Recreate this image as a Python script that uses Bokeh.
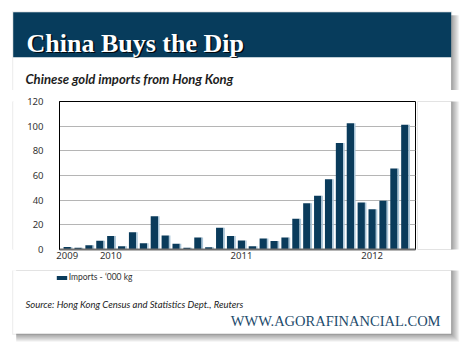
from bokeh.plotting import figure
from bokeh.layouts import column, row
from bokeh.models import (ColumnDataSource, Range1d, FixedTicker, BoxAnnotation,
                          Label, Legend, LegendItem)
from bokeh.transform import dodge
from bokeh.embed import file_html
from bokeh.resources import INLINE

# ---------------- data ----------------
months = ["2009-09", "2009-10", "2009-11", "2009-12",
          "2010-01", "2010-02", "2010-03", "2010-04", "2010-05", "2010-06",
          "2010-07", "2010-08", "2010-09", "2010-10", "2010-11", "2010-12",
          "2011-01", "2011-02", "2011-03", "2011-04", "2011-05", "2011-06",
          "2011-07", "2011-08", "2011-09", "2011-10", "2011-11", "2011-12",
          "2012-01", "2012-02", "2012-03", "2012-04"]
imports = [2.0, 1.5, 3.5, 7.0, 11.0, 2.7, 14.0, 5.0, 27.0, 11.4, 4.6, 1.4,
           9.8, 1.9, 17.7, 10.9, 7.3, 2.7, 9.0, 6.8, 9.8, 25.0, 37.5, 43.5,
           56.9, 86.3, 102.3, 38.1, 32.7, 39.5, 65.6, 101.2]
year_labels = ["2009", "2010", "2011", "2012"]
year_label_months = ["2009-09", "2010-01", "2011-01", "2012-01"]
y_ticks = [0, 20, 40, 60, 80, 100, 120]

title_text = "China Buys the Dip"
subtitle_text = "Chinese gold imports from Hong Kong"
legend_text = "Imports - \u2018000 kg"
source_text = "Source: Hong Kong Census and Statistics Dept., Reuters"
footer_text = "WWW.AGORAFINANCIAL.COM"

NAVY = "#073c5c"
BAR = "#0a3b5b"
TOTAL_W, TOTAL_H = 468, 353
TOP_H = 90          # height of the header strip
MID_H = 180         # height of the chart strip
LEFT_W = 14
CHART_W = 403
RIGHT_W = TOTAL_W - LEFT_W - CHART_W

# card geometry in page pixels
CL, CR, CT, CB = 12.7, 450.7, 11.7, 333.3
HEADER_B = 56.7


def deco_figure(x0, y0, w, h):
    f = figure(width=w, height=h, output_backend="svg", toolbar_location=None,
               x_range=Range1d(x0, x0 + w), y_range=Range1d(y0 + h, y0),
               min_border=0, x_axis_location=None, y_axis_location=None,
               outline_line_color=None, border_fill_color="white",
               background_fill_color="white")
    f.grid.visible = False
    # drop shadow
    f.add_layout(BoxAnnotation(left=CL - 1, right=CR + 1, top=CT - 1, bottom=CB + 1,
                               fill_color="black", fill_alpha=0.08, line_color=None,
                               level="underlay"))
    for d in range(1, 9):
        f.add_layout(BoxAnnotation(left=CL + 3, right=CR + d, top=CT + 3, bottom=CB + d,
                                   fill_color="black", fill_alpha=0.05,
                                   line_color=None, level="underlay"))
    # card
    f.add_layout(BoxAnnotation(left=CL, right=CR, top=CT, bottom=CB,
                               fill_color="white", fill_alpha=1, line_color=None,
                               level="underlay"))
    f.add_layout(BoxAnnotation(left=CL, right=CR, top=CT, bottom=HEADER_B,
                               fill_color=NAVY, fill_alpha=1, line_color=None,
                               level="underlay"))
    return f


# ---------------- header strip ----------------
top = deco_figure(0, 0, TOTAL_W, TOP_H)
top.add_layout(Label(x=26 + 1.5, y=42.7 + 1.5, text=title_text,
                     text_font="Liberation Serif", text_font_style="bold",
                     text_font_size="26px", text_color="black", text_alpha=0.85,
                     text_baseline="alphabetic"))
top.add_layout(Label(x=26, y=42.7, text=title_text,
                     text_font="Liberation Serif", text_font_style="bold",
                     text_font_size="26px", text_color="white",
                     text_baseline="alphabetic"))
top.add_layout(Label(x=25, y=78.3, text=subtitle_text, text_font="Lato",
                     text_font_style="bold italic", text_font_size="13.1px",
                     text_color="#1e1e1e", text_baseline="alphabetic"))

# ---------------- chart strip ----------------
left = deco_figure(0, TOP_H, LEFT_W, MID_H)
right = deco_figure(LEFT_W + CHART_W, TOP_H, RIGHT_W, MID_H)

xs = list(range(len(months)))
src = ColumnDataSource(dict(x=xs, imports=imports, month=months))

p = figure(width=CHART_W, height=MID_H, output_backend="svg", toolbar_location=None,
           x_range=Range1d(-0.71, 31.98), y_range=Range1d(0, 120),
           min_border_left=45, min_border_right=2, min_border_top=11,
           min_border_bottom=21, border_fill_color="white",
           background_fill_color="white", outline_line_color="black",
           outline_line_width=1)

bars = p.vbar(x="x", top="imports", width=0.67, source=src,
              fill_color=BAR, line_color=None)
p.vbar(x=dodge("x", 0.405), top="imports", width=0.14, source=src,
       fill_color="#a9c5d8", line_color=None)

ya = p.yaxis[0]
ya.ticker = FixedTicker(ticks=y_ticks)
ya.axis_line_color = "black"
ya.axis_line_width = 1
ya.major_tick_line_color = None
ya.minor_tick_line_color = None
ya.major_tick_out = 0
ya.major_tick_in = 0
ya.major_label_standoff = 16
ya.major_label_text_font = "Noto Sans"
ya.major_label_text_font_size = "9.5px"
ya.major_label_text_color = "#333333"

xa = p.xaxis[0]
tick_idx = [months.index(m) for m in year_label_months]
xa.ticker = FixedTicker(ticks=tick_idx)
xa.major_label_overrides = {i: lab for i, lab in zip(tick_idx, year_labels)}
xa.axis_line_color = "#6e6e6e"
xa.axis_line_width = 2
xa.major_tick_line_color = None
xa.minor_tick_line_color = None
xa.major_tick_out = 0
xa.major_tick_in = 0
xa.major_label_standoff = 2
xa.major_label_text_font = "Noto Sans"
xa.major_label_text_font_size = "9.5px"
xa.major_label_text_color = "#333333"

p.xgrid.grid_line_color = None
p.ygrid.ticker = FixedTicker(ticks=y_ticks)
p.ygrid.grid_line_color = "#b5b5b5"
p.ygrid.grid_line_width = 1

# ---------------- footer strip ----------------
BOT_Y0 = TOP_H + MID_H
BOT_H = TOTAL_H - BOT_Y0
bottom = deco_figure(0, BOT_Y0, TOTAL_W, BOT_H)
# hidden copy of the series: only feeds the legend swatch
legend_proxy = bottom.vbar(x="x", top="imports", width=0.67, source=src,
                           fill_color=BAR, line_color=None, visible=False)
legend = Legend(items=[LegendItem(label=legend_text, renderers=[legend_proxy])],
                location=(54.7, TOTAL_H - 282), orientation="horizontal",
                glyph_width=13, glyph_height=5, label_standoff=1,
                padding=0, margin=0, spacing=0,
                border_line_color=None, background_fill_alpha=0,
                inactive_fill_alpha=0,
                label_text_font="Lato", label_text_font_size="8.5px",
                label_text_color="#333333", label_height=5, label_width=5)
bottom.add_layout(legend)
bottom.add_layout(Label(x=25, y=303.5, text=source_text, text_font="Lato",
                        text_font_style="italic", text_font_size="9.5px",
                        text_color="#222222", text_baseline="alphabetic"))
bottom.add_layout(Label(x=440, y=320.7, text=footer_text,
                        text_font="Liberation Serif", text_font_size="14.5px",
                        text_align="right", text_color="#1d4b6c",
                        text_baseline="alphabetic"))

layout = column(top, row(left, p, right), bottom)
open("out.html", "w").write(file_html(layout, INLINE))
